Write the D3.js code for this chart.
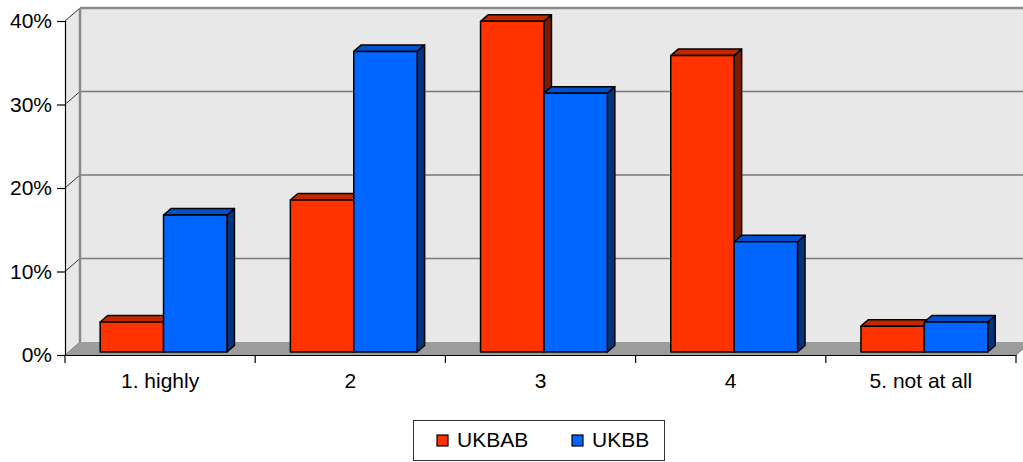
<!DOCTYPE html>
<html><head><meta charset="utf-8">
<script src="https://cdn.jsdelivr.net/npm/d3@7"></script>
<style>html,body{margin:0;padding:0;background:#fff;}svg{display:block;font-family:"Liberation Sans",Arial,sans-serif;}</style>
</head><body><svg id="c" width="1023" height="462"></svg>
<script>
const categories = ["1. highly", "2", "3", "4", "5. not at all"];
const seriesNames = ["UKBAB", "UKBB"];
const ukbab = [3.6, 18.2, 39.6, 35.5, 3.1];
const ukbb = [16.4, 36.0, 31.0, 13.2, 3.6];
const yTicks = [0, 10, 20, 30, 40];
const colors = {
  UKBAB: {front: "#FF3300", top: "#C42800", side: "#7F1A00"},
  UKBB: {front: "#0066FF", top: "#0052CC", side: "#003380"}
};

const svg = d3.select("#c");
const DX = 15, DY = -13;
const off = f => [DX * f, DY * f];
const x = d3.scaleBand().domain(categories).range([65, 1016]).padding(0);
const xs = d3.scaleBand().domain(seriesNames).range([x.bandwidth() / 6, x.bandwidth() * 5 / 6]);
const y = d3.scaleLinear().domain([0, 40]).range([355, 21]);

// back wall
const [bx, by] = off(1);
svg.append("rect").attr("x", 65 + bx).attr("y", y(40) + by).attr("width", 1040).attr("height", y(0) - y(40)).attr("fill", "#E8E8E8");
// gridlines on back wall
svg.selectAll(".grid").data(yTicks.slice(1, 4)).join("line")
  .attr("x1", 65 + bx).attr("x2", 1040).attr("y1", d => y(d) + by).attr("y2", d => y(d) + by)
  .attr("stroke", "#7A7A7A").attr("stroke-width", 1.5);
// top border
svg.append("line").attr("x1", 65 + bx).attr("x2", 1040).attr("y1", y(40) + by).attr("y2", y(40) + by)
  .attr("stroke", "#8A8A8A").attr("stroke-width", 2.5);
// side wall
svg.append("polygon").attr("points", [[65, y(40)], [65 + bx, y(40) + by], [65 + bx, y(0) + by], [65, y(0)]].join(" "))
  .attr("fill", "#E8E8E8");
svg.selectAll(".sgrid").data(yTicks.slice(1)).join("line")
  .attr("x1", 65).attr("x2", 65 + bx).attr("y1", d => y(d)).attr("y2", d => y(d) + by)
  .attr("stroke", "#333").attr("stroke-width", 1);
svg.append("line").attr("x1", 65 + bx).attr("x2", 65 + bx).attr("y1", y(40) + by).attr("y2", y(0) + by)
  .attr("stroke", "#8A8A8A").attr("stroke-width", 2.5);
// floor
svg.append("polygon").attr("points", [[65, y(0)], [65 + bx, y(0) + by], [1016 + bx, y(0) + by], [1016, y(0)]].join(" "))
  .attr("fill", "#9C9C9C");
svg.append("line").attr("x1", 65).attr("x2", 65 + bx).attr("y1", y(0)).attr("y2", y(0) + by).attr("stroke", "#808080");
svg.append("line").attr("x1", 1016).attr("x2", 1016 + bx).attr("y1", y(0)).attr("y2", y(0) + by).attr("stroke", "#808080");

// bars
const f1 = 0.23, f2 = 0.73;
const [o1x, o1y] = off(f1), [o2x, o2y] = off(f2);
const data = [];
categories.forEach((c, i) => {
  data.push({c, s: "UKBAB", v: ukbab[i]});
  data.push({c, s: "UKBB", v: ukbb[i]});
});
const g = svg.append("g");
data.forEach(d => {
  const x0 = x(d.c) + xs(d.s), w = xs.bandwidth(), yt = y(d.v), yb = y(0);
  const col = colors[d.s];
  const bg = g.append("g").attr("stroke", "#000").attr("stroke-width", 1.5).attr("stroke-linejoin", "round");
  bg.append("polygon").attr("points", [[x0 + w + o1x, yt + o1y], [x0 + w + o2x, yt + o2y], [x0 + w + o2x, yb + o2y], [x0 + w + o1x, yb + o1y]].join(" ")).attr("fill", col.side);
  bg.append("polygon").attr("points", [[x0 + o1x, yt + o1y], [x0 + w + o1x, yt + o1y], [x0 + w + o2x, yt + o2y], [x0 + o2x, yt + o2y]].join(" ")).attr("fill", col.top);
  bg.append("rect").attr("x", x0 + o1x).attr("y", yt + o1y).attr("width", w).attr("height", yb - yt).attr("fill", col.front);
});

// y axis
const ya = svg.append("g").attr("transform", "translate(65,0)")
  .call(d3.axisLeft(y).tickValues(yTicks).tickFormat(d => d + "%").tickSize(8).tickPadding(5));
ya.select(".domain").attr("stroke", "#000").attr("stroke-width", 1.2);
ya.selectAll("line").attr("stroke", "#000").attr("stroke-width", 1.2);
ya.selectAll("text").attr("font-size", 21).attr("font-family", "Liberation Sans, Arial, sans-serif").attr("fill", "#000");

// x axis
const xa = svg.append("g").attr("transform", `translate(0,${y(0)})`)
  .call(d3.axisBottom(x).tickSize(0).tickPadding(18));
xa.select(".domain").attr("stroke", "#000").attr("stroke-width", 1.2);
xa.selectAll("text").attr("font-size", 21).attr("font-family", "Liberation Sans, Arial, sans-serif").attr("fill", "#000");
const edges = categories.map(c => x(c)).concat([x.range()[1]]);
svg.selectAll(".xt").data(edges).join("line")
  .attr("x1", d => d).attr("x2", d => d).attr("y1", y(0)).attr("y2", y(0) + 8)
  .attr("stroke", "#000").attr("stroke-width", 1.2);

// legend
const lg = svg.append("g");
lg.append("rect").attr("x", 413.5).attr("y", 420.5).attr("width", 251).attr("height", 40).attr("fill", "#fff").attr("stroke", "#333").attr("stroke-width", 1);
const lx = [437, 572];
seriesNames.forEach((s, i) => {
  lg.append("rect").attr("x", lx[i]).attr("y", 435).attr("width", 11).attr("height", 11)
    .attr("fill", colors[s].front).attr("stroke", "#000").attr("stroke-width", 1.2);
  lg.append("text").attr("x", lx[i] + 20).attr("y", 447).attr("font-size", 21).attr("fill", "#000").text(s);
});
</script></body></html>
